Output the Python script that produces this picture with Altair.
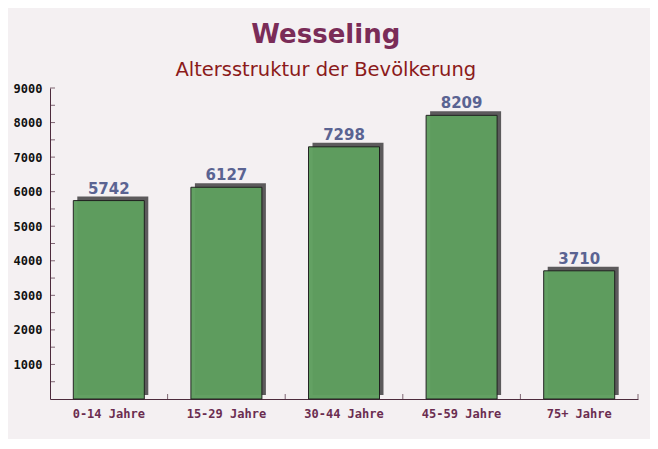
import altair as alt
import pandas as pd

categories = ["0-14 Jahre", "15-29 Jahre", "30-44 Jahre", "45-59 Jahre", "75+ Jahre"]
values = [5742, 6127, 7298, 8209, 3710]
y_label_values = [1000, 2000, 3000, 4000, 5000, 6000, 7000, 8000, 9000]
y_tick_values = [500, 1000, 1500, 2000, 2500, 3000, 3500, 4000, 4500,
                 5000, 5500, 6000, 6500, 7000, 7500, 8000, 8500, 9000]

df = pd.DataFrame({"age": categories, "value": values})
ticks_df = pd.DataFrame({"value": y_tick_values})
xticks_df = pd.DataFrame({"age": categories})

W, H = 588, 311
AXIS_COLOR = "#4d2b3d"

xscale = alt.Scale(domain=categories, paddingInner=0, paddingOuter=0)
yscale = alt.Scale(domain=[0, 9000])

x_axis = alt.Axis(title=None, labelAngle=0, ticks=False, domainColor=AXIS_COLOR,
                  labelColor="#6b2d50", labelFont="DejaVu Sans Mono",
                  labelFontWeight="bold", labelFontSize=12, labelPadding=9)
y_axis = alt.Axis(title=None, values=y_label_values, format="d", labelOverlap=False,
                  ticks=False, grid=False,
                  domainColor=AXIS_COLOR, labelColor="#111111",
                  labelFont="DejaVu Sans Mono", labelFontWeight="bold",
                  labelFontSize=12, labelPadding=8)

x_enc = alt.X("age:N", sort=categories, scale=xscale, axis=x_axis)
y_enc = alt.Y("value:Q", scale=yscale, axis=y_axis)

base = alt.Chart(df)

shadow = base.mark_bar(size=71, color="#5c5a5c", xOffset=4, yOffset=-4, y2Offset=0).encode(
    x=x_enc, y=y_enc
)
bars = base.mark_bar(size=71, color="#5f9f5f", opacity=0.97, stroke="#1e1e1e",
                     strokeWidth=1).encode(x=x_enc, y=y_enc)
labels = base.mark_text(font="DejaVu Sans", fontWeight="bold", fontSize=15,
                        color="#5a6392", baseline="alphabetic", dy=-7).encode(
    x=x_enc, y=y_enc, text=alt.Text("value:Q", format="d")
)

yticks = alt.Chart(ticks_df).mark_tick(orient="horizontal", size=5, thickness=1,
                                        color=AXIS_COLOR).encode(
    y=y_enc, x=alt.value(2.5)
)
xticks = alt.Chart(xticks_df).mark_tick(orient="vertical", size=5, thickness=1,
                                         color=AXIS_COLOR).encode(
    x=alt.X("age:N", sort=categories, scale=xscale, bandPosition=1, axis=x_axis),
    y=alt.value(H - 2.5),
)

chart = alt.layer(shadow, bars, labels, yticks, xticks).properties(
    width=W, height=H,
    autosize=alt.AutoSizeParams(type="none"),
    padding={"left": 42, "top": 80, "right": 12, "bottom": 40},
    title=alt.TitleParams(
        "Wesseling",
        subtitle="Altersstruktur der Bevölkerung",
        font="DejaVu Sans", fontSize=26, fontWeight="bold", color="#7a2c58",
        subtitleFont="DejaVu Sans", subtitleFontSize=19.5, subtitleColor="#8b1a1a",
        subtitleFontWeight="normal",
        anchor="middle", frame="bounds", offset=3, subtitlePadding=13,
    ),
).configure(background="#f4f0f2").configure_view(stroke=None)

chart.save("out.html", embed_options={"renderer": "svg", "actions": False})
